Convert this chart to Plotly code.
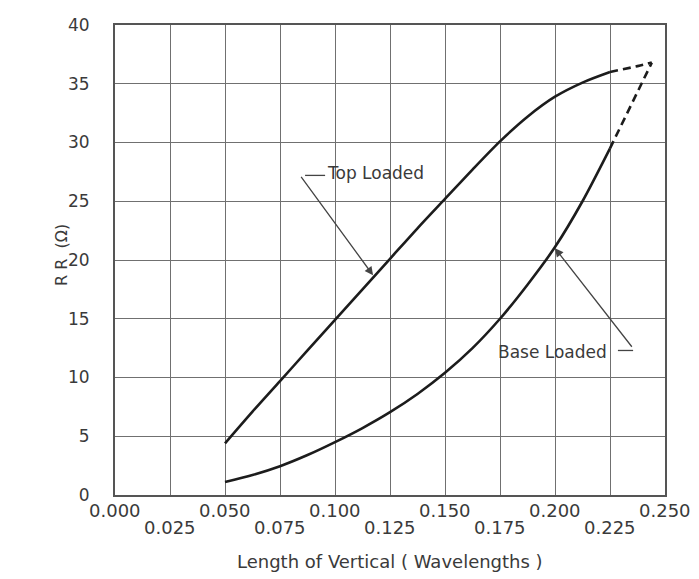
import plotly.graph_objects as go

# --- data ---
x_len = [0.05, 0.0625, 0.075, 0.0875, 0.1, 0.1125, 0.125, 0.1375, 0.15,
         0.1625, 0.175, 0.1875, 0.2, 0.2125, 0.225]
top_loaded = [4.4, 7.1, 9.7, 12.3, 14.9, 17.5, 20.1, 22.7, 25.2,
              27.7, 30.1, 32.2, 33.9, 35.1, 36.0]
base_loaded = [1.1, 1.7, 2.45, 3.4, 4.5, 5.7, 7.05, 8.6, 10.4,
               12.5, 15.0, 17.9, 21.1, 25.0, 29.5]

# dashed extrapolation to the quarter-wave point
x_ext = [0.225, 0.2375, 0.244]
top_ext = [36.0, 36.5, 36.8]
base_ext_x = [0.225, 0.244]
base_ext = [29.5, 36.8]

x_ticks = [0.0, 0.025, 0.05, 0.075, 0.1, 0.125, 0.15, 0.175, 0.2, 0.225, 0.25]
x_ticktext = ["0.000", "0.025", "0.050", "0.075", "0.100", "0.125",
              "0.150", "0.175", "0.200", "0.225", "0.250"]
y_ticks = [0, 5, 10, 15, 20, 25, 30, 35, 40]

INK = "#1c1c1c"
GRID = "#707070"
TEXT = "#3a3a3a"
FONT = "DejaVu Sans"

fig = go.Figure()
fig.add_trace(go.Scatter(x=x_len, y=top_loaded, mode="lines",
                         line=dict(color=INK, width=2.6, shape="spline", smoothing=0.8),
                         name="Top Loaded"))
fig.add_trace(go.Scatter(x=x_len, y=base_loaded, mode="lines",
                         line=dict(color=INK, width=2.6, shape="spline", smoothing=0.8),
                         name="Base Loaded"))
fig.add_trace(go.Scatter(x=x_ext, y=top_ext, mode="lines",
                         line=dict(color=INK, width=2.6, dash="8px,5px", shape="spline")))
fig.add_trace(go.Scatter(x=base_ext_x, y=base_ext, mode="lines",
                         line=dict(color=INK, width=2.6, dash="8px,5px")))

annotations = []
# staggered x tick labels
for i, (v, t) in enumerate(zip(x_ticks, x_ticktext)):
    annotations.append(dict(x=v, y=0, xref="x", yref="paper", text=t,
                            showarrow=False, xanchor="center", yanchor="middle",
                            yshift=-15 if i % 2 == 0 else -32,
                            font=dict(size=18, color=TEXT, family=FONT)))

# leader for "Top Loaded"
annotations.append(dict(x=0.1173, y=18.7, xref="x", yref="y", text="",
                        showarrow=True, ax=-73, ay=-100, arrowhead=2,
                        arrowsize=1.3, arrowwidth=1.3, arrowcolor="#444"))
annotations.append(dict(x=0.0955, y=27.4, xref="x", yref="y", text="Top Loaded",
                        showarrow=False, xanchor="left", yanchor="middle",
                        font=dict(size=17, color=TEXT, family=FONT)))
# leader for "Base Loaded"
annotations.append(dict(x=0.2, y=21.0, xref="x", yref="y", text="",
                        showarrow=True, ax=78, ay=100, arrowhead=2,
                        arrowsize=1.3, arrowwidth=1.3, arrowcolor="#444"))
annotations.append(dict(x=0.2247, y=12.2, xref="x", yref="y", text="Base Loaded",
                        showarrow=False, xanchor="right", yanchor="middle",
                        font=dict(size=17, color=TEXT, family=FONT)))

# axis titles
annotations.append(dict(x=0.5, y=-0.142, xref="paper", yref="paper",
                        text="Length of Vertical ( Wavelengths )",
                        showarrow=False, xanchor="center", yanchor="middle",
                        font=dict(size=18, color=TEXT, family=FONT)))
annotations.append(dict(x=-0.097, y=0.51, xref="paper", yref="paper",
                        text="R R  (\u03a9)", textangle=-90, showarrow=False,
                        xanchor="center", yanchor="middle",
                        font=dict(size=16, color=TEXT, family=FONT)))

shapes = [
    # small horizontal hooks on the leaders
    dict(type="line", xref="x", yref="y", x0=0.0864, x1=0.0955, y0=27.2, y1=27.2,
         line=dict(color="#444", width=1.3)),
    dict(type="line", xref="x", yref="y", x0=0.2286, x1=0.2355, y0=12.3, y1=12.3,
         line=dict(color="#444", width=1.3)),
]

# page body adds an 8px offset, so margins are shifted to compensate
fig.update_layout(
    width=699, height=579,
    margin=dict(l=107, r=42, t=17, b=92, autoexpand=False),
    paper_bgcolor="white", plot_bgcolor="white",
    showlegend=False,
    annotations=annotations, shapes=shapes,
    font=dict(family=FONT, color=TEXT),
)
fig.update_xaxes(range=[0, 0.25], tickvals=x_ticks, showticklabels=False,
                 showgrid=True, gridcolor=GRID, gridwidth=1.4,
                 showline=True, linecolor="#555", linewidth=2, mirror=True,
                 zeroline=False, ticks="", automargin=False)
fig.update_yaxes(range=[0, 40], tickvals=y_ticks,
                 showgrid=True, gridcolor=GRID, gridwidth=1.4,
                 showline=True, linecolor="#555", linewidth=2, mirror=True,
                 zeroline=False, ticks="", ticklabelstandoff=20, automargin=False,
                 tickfont=dict(size=17, color=TEXT, family=FONT))

fig.write_html("out.html")
